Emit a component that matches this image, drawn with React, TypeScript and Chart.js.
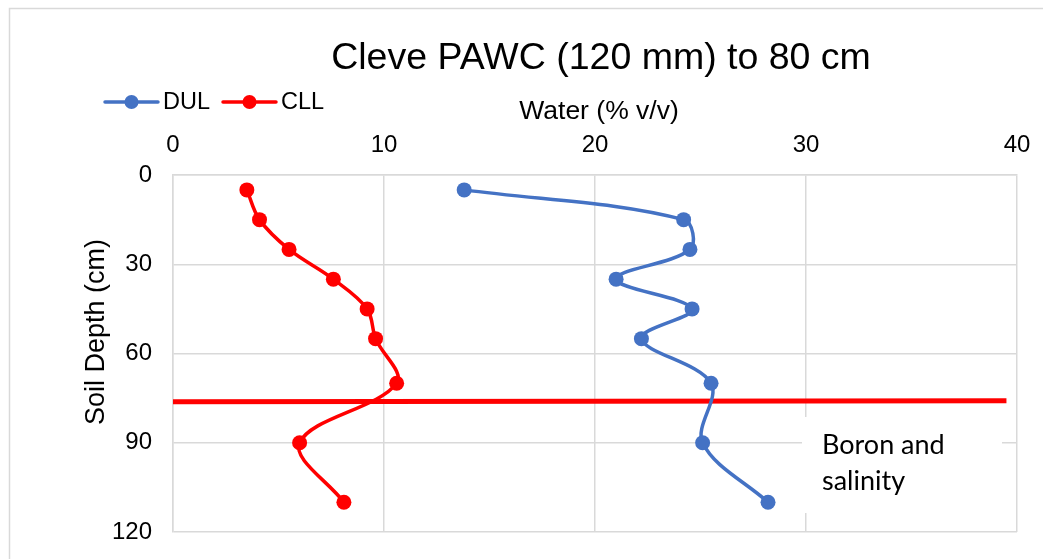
import React, { useEffect, useRef } from "react";
import { Chart, registerables } from "chart.js";

Chart.register(...registerables);

// ---- data ----
const depths = [5, 15, 25, 35, 45, 55, 70, 90, 110];
const dulValues = [13.8, 24.2, 24.5, 21.0, 24.6, 22.2, 25.5, 25.1, 28.2];
const cllValues = [3.5, 4.1, 5.5, 7.6, 9.2, 9.6, 10.6, 6.0, 8.1];
const boundaryWater = [0, 39.5];
const boundaryDepth = [76.2, 75.9];
const xTicks = [0, 10, 20, 30, 40];
const yTicks = [0, 30, 60, 90, 120];
const seriesNames = ["DUL", "CLL"];
const titleText = "Cleve PAWC (120 mm) to 80 cm";
const xTitle = "Water (% v/v)";
const yTitle = "Soil Depth (cm)";
const noteLines = ["Boron and", "salinity"];

const FAMILY = "'Liberation Sans', Arial, Helvetica, sans-serif";
const BLUE = "#4472C4";
const RED = "#FF0000";
const GRID = "#d9d9d9";
const TOP_PAD = 80;

const decor = {
  id: "decor",
  beforeDraw(chart: any) {
    const ctx = chart.ctx;
    ctx.save();
    ctx.fillStyle = "#fff";
    ctx.fillRect(0, 0, chart.width, chart.height);
    ctx.strokeStyle = GRID;
    ctx.lineWidth = 1.5;
    ctx.strokeRect(9.5, 8.5, 1200, 700);
    ctx.restore();
  },
  afterDraw(chart: any) {
    const ctx = chart.ctx;
    ctx.save();
    // title
    ctx.fillStyle = "#000";
    ctx.font = `37.5px ${FAMILY}`;
    ctx.textAlign = "center";
    ctx.textBaseline = "middle";
    ctx.fillText(titleText, 601, 59);

    // x axis title
    ctx.font = `26.5px ${FAMILY}`;
    ctx.fillText(xTitle, 599, 112);

    // y axis title
    ctx.save();
    ctx.translate(97, 332);
    ctx.rotate(-Math.PI / 2);
    ctx.font = `27px ${FAMILY}`;
    ctx.textAlign = "center";
    ctx.textBaseline = "middle";
    ctx.fillText(yTitle, 0, 0);
    ctx.restore();

    // legend
    const items = [
      { x: 105, color: BLUE, label: seriesNames[0] },
      { x: 223, color: RED, label: seriesNames[1] },
    ];
    const ly = 102;
    for (const it of items) {
      ctx.strokeStyle = it.color;
      ctx.lineWidth = 3.5;
      ctx.lineCap = "round";
      ctx.beginPath();
      ctx.moveTo(it.x, ly);
      ctx.lineTo(it.x + 53, ly);
      ctx.stroke();
      ctx.fillStyle = it.color;
      ctx.beginPath();
      ctx.arc(it.x + 26.5, ly, 7, 0, Math.PI * 2);
      ctx.fill();
      ctx.fillStyle = "#000";
      ctx.font = `23.5px ${FAMILY}`;
      ctx.textAlign = "left";
      ctx.textBaseline = "middle";
      ctx.fillText(it.label, it.x + 58, ly + 1);
    }

    // note box
    ctx.fillStyle = "#fff";
    ctx.fillRect(802, 417, 200, 96);
    ctx.fillStyle = "#000";
    ctx.font = `27px Lato, 'Open Sans', sans-serif`;
    ctx.textAlign = "left";
    ctx.textBaseline = "alphabetic";
    ctx.fillText(noteLines[0], 822, 454);
    ctx.fillText(noteLines[1], 822, 490);
    ctx.restore();
  },
};

export default function App() {
  const ref = useRef<HTMLCanvasElement | null>(null);

  useEffect(() => {
    document.body.style.overflow = "hidden";
    const canvas = ref.current;
    if (!canvas) return;
    const mk = (xs: number[], ys: number[]) => xs.map((v, i) => ({ x: v, y: ys[i] }));
    const chart = new Chart(canvas, {
      type: "scatter",
      data: {
        datasets: [
          {
            label: seriesNames[0],
            data: mk(dulValues, depths),
            showLine: true,
            borderColor: BLUE,
            backgroundColor: BLUE,
            borderWidth: 3.5,
            pointRadius: 7.5,
            pointHoverRadius: 7.5,
            pointBorderWidth: 0,
            tension: 0.35,
          },
          {
            label: seriesNames[1],
            data: mk(cllValues, depths),
            showLine: true,
            borderColor: RED,
            backgroundColor: RED,
            borderWidth: 3.5,
            pointRadius: 7.5,
            pointHoverRadius: 7.5,
            pointBorderWidth: 0,
            tension: 0.35,
          },
          {
            label: "boundary",
            data: mk(boundaryWater, boundaryDepth),
            showLine: true,
            borderColor: RED,
            backgroundColor: RED,
            borderWidth: 5,
            pointRadius: 0,
            tension: 0,
          },
        ],
      },
      options: {
        responsive: false,
        animation: false,
        events: [],
        layout: { padding: { left: 0, right: 26, top: TOP_PAD, bottom: 27 } },
        plugins: {
          legend: { display: false },
          title: { display: false },
          tooltip: { enabled: false },
        },
        scales: {
          x: {
            type: "linear",
            position: "top",
            min: 0,
            max: 40,
            afterBuildTicks: (s: any) => {
              s.ticks = xTicks.map((v) => ({ value: v }));
            },
            afterFit: (s: any) => {
              s.height = 175 - TOP_PAD;
              s.paddingLeft = 0;
              s.paddingRight = 0;
            },
            grid: { color: GRID, lineWidth: 1.5, drawTicks: false },
            border: { color: GRID, width: 1.5 },
            ticks: { font: { family: FAMILY, size: 24 }, color: "#000", padding: 15 },
            title: { display: false },
          },
          y: {
            type: "linear",
            reverse: true,
            min: 0,
            max: 120,
            afterBuildTicks: (s: any) => {
              s.ticks = yTicks.map((v) => ({ value: v }));
            },
            afterFit: (s: any) => {
              s.width = 173;
              s.paddingTop = 0;
              s.paddingBottom = 0;
            },
            grid: { color: GRID, lineWidth: 1.5, drawTicks: false },
            border: { color: GRID, width: 1.5 },
            ticks: { font: { family: FAMILY, size: 24 }, color: "#000", padding: 21 },
            title: { display: false },
          },
        },
      },
      plugins: [decor],
    });
    return () => chart.destroy();
  }, []);

  return (
    <div style={{ position: "fixed", left: 0, top: 0, width: 1043, height: 559 }}>
      <canvas ref={ref} width={1043} height={559} style={{ display: "block" }} />
    </div>
  );
}
